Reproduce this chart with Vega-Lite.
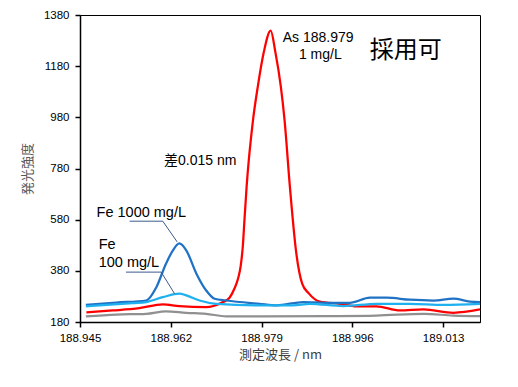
{
  "$schema": "https://vega.github.io/schema/vega-lite/v6.json",
  "width": 400,
  "height": 307,
  "autosize": {"type": "none"},
  "padding": {"left": 80, "top": 15, "right": 38, "bottom": 65},
  "background": "white",
  "config": {
    "view": {"stroke": "#000000", "strokeWidth": 1},
    "font": "Liberation Sans, Noto Sans CJK JP, sans-serif"
  },
  "datasets": {
    "spectra": [
      {"series": "As", "wl": 188.9462, "intensity": 218},
      {"series": "As", "wl": 188.9511, "intensity": 225},
      {"series": "As", "wl": 188.9561, "intensity": 234},
      {"series": "As", "wl": 188.9605, "intensity": 249},
      {"series": "As", "wl": 188.9636, "intensity": 242},
      {"series": "As", "wl": 188.9686, "intensity": 238},
      {"series": "As", "wl": 188.9715, "intensity": 255},
      {"series": "As", "wl": 188.9730, "intensity": 275},
      {"series": "As", "wl": 188.9739, "intensity": 310},
      {"series": "As", "wl": 188.9746, "intensity": 350},
      {"series": "As", "wl": 188.9751, "intensity": 400},
      {"series": "As", "wl": 188.9755, "intensity": 480},
      {"series": "As", "wl": 188.9758, "intensity": 580},
      {"series": "As", "wl": 188.9762, "intensity": 709},
      {"series": "As", "wl": 188.9774, "intensity": 970},
      {"series": "As", "wl": 188.9783, "intensity": 1101},
      {"series": "As", "wl": 188.9794, "intensity": 1233},
      {"series": "As", "wl": 188.9807, "intensity": 1319},
      {"series": "As", "wl": 188.9816, "intensity": 1233},
      {"series": "As", "wl": 188.9826, "intensity": 1101},
      {"series": "As", "wl": 188.9833, "intensity": 970},
      {"series": "As", "wl": 188.9843, "intensity": 709},
      {"series": "As", "wl": 188.9855, "intensity": 449},
      {"series": "As", "wl": 188.9866, "intensity": 330},
      {"series": "As", "wl": 188.9878, "intensity": 293},
      {"series": "As", "wl": 188.9899, "intensity": 260},
      {"series": "As", "wl": 188.9936, "intensity": 251},
      {"series": "As", "wl": 188.9968, "intensity": 241},
      {"series": "As", "wl": 189.0005, "intensity": 241},
      {"series": "As", "wl": 189.0049, "intensity": 225},
      {"series": "As", "wl": 189.0093, "intensity": 229},
      {"series": "As", "wl": 189.0149, "intensity": 216},
      {"series": "As", "wl": 189.0199, "intensity": 229},

      {"series": "Fe1000", "wl": 188.9461, "intensity": 247},
      {"series": "Fe1000", "wl": 188.9518, "intensity": 256},
      {"series": "Fe1000", "wl": 188.9574, "intensity": 264},
      {"series": "Fe1000", "wl": 188.9593, "intensity": 316},
      {"series": "Fe1000", "wl": 188.9611, "intensity": 408},
      {"series": "Fe1000", "wl": 188.9624, "intensity": 460},
      {"series": "Fe1000", "wl": 188.9636, "intensity": 487},
      {"series": "Fe1000", "wl": 188.9649, "intensity": 460},
      {"series": "Fe1000", "wl": 188.9668, "intensity": 369},
      {"series": "Fe1000", "wl": 188.9686, "intensity": 304},
      {"series": "Fe1000", "wl": 188.9702, "intensity": 271},
      {"series": "Fe1000", "wl": 188.9724, "intensity": 264},
      {"series": "Fe1000", "wl": 188.9786, "intensity": 251},
      {"series": "Fe1000", "wl": 188.9818, "intensity": 245},
      {"series": "Fe1000", "wl": 188.9868, "intensity": 258},
      {"series": "Fe1000", "wl": 188.9912, "intensity": 255},
      {"series": "Fe1000", "wl": 188.9955, "intensity": 255},
      {"series": "Fe1000", "wl": 188.9993, "intensity": 275},
      {"series": "Fe1000", "wl": 189.0024, "intensity": 275},
      {"series": "Fe1000", "wl": 189.0068, "intensity": 267},
      {"series": "Fe1000", "wl": 189.0112, "intensity": 264},
      {"series": "Fe1000", "wl": 189.0149, "intensity": 271},
      {"series": "Fe1000", "wl": 189.0180, "intensity": 260},
      {"series": "Fe1000", "wl": 189.0199, "intensity": 258},

      {"series": "Fe100", "wl": 188.9461, "intensity": 241},
      {"series": "Fe100", "wl": 188.9549, "intensity": 254},
      {"series": "Fe100", "wl": 188.9574, "intensity": 258},
      {"series": "Fe100", "wl": 188.9605, "intensity": 277},
      {"series": "Fe100", "wl": 188.9636, "intensity": 291},
      {"series": "Fe100", "wl": 188.9649, "intensity": 284},
      {"series": "Fe100", "wl": 188.9674, "intensity": 264},
      {"series": "Fe100", "wl": 188.9705, "intensity": 251},
      {"series": "Fe100", "wl": 188.9786, "intensity": 245},
      {"series": "Fe100", "wl": 188.9849, "intensity": 245},
      {"series": "Fe100", "wl": 188.9880, "intensity": 251},
      {"series": "Fe100", "wl": 188.9943, "intensity": 242},
      {"series": "Fe100", "wl": 189.0005, "intensity": 251},
      {"series": "Fe100", "wl": 189.0068, "intensity": 251},
      {"series": "Fe100", "wl": 189.0130, "intensity": 247},
      {"series": "Fe100", "wl": 189.0199, "intensity": 251},

      {"series": "Blank", "wl": 188.9461, "intensity": 202},
      {"series": "Blank", "wl": 188.9518, "intensity": 209},
      {"series": "Blank", "wl": 188.9574, "intensity": 212},
      {"series": "Blank", "wl": 188.9611, "intensity": 222},
      {"series": "Blank", "wl": 188.9649, "intensity": 216},
      {"series": "Blank", "wl": 188.9686, "intensity": 212},
      {"series": "Blank", "wl": 188.9724, "intensity": 202},
      {"series": "Blank", "wl": 188.9786, "intensity": 202},
      {"series": "Blank", "wl": 188.9912, "intensity": 203},
      {"series": "Blank", "wl": 189.0005, "intensity": 205},
      {"series": "Blank", "wl": 189.0094, "intensity": 212},
      {"series": "Blank", "wl": 189.0149, "intensity": 205},
      {"series": "Blank", "wl": 189.0199, "intensity": 203}
    ],
    "leaders": [
      {"id": "Fe1000", "k": 1, "wl": 188.9543, "intensity": 574},
      {"id": "Fe1000", "k": 2, "wl": 188.9605, "intensity": 574},
      {"id": "Fe1000", "k": 3, "wl": 188.9632, "intensity": 493},
      {"id": "Fe100", "k": 1, "wl": 188.9536, "intensity": 375},
      {"id": "Fe100", "k": 2, "wl": 188.9602, "intensity": 375},
      {"id": "Fe100", "k": 3, "wl": 188.9627, "intensity": 291}
    ],
    "labelsCenter": [
      {"text": "As 188.979", "wl": 188.9896, "intensity": 1292},
      {"text": "1 mg/L", "wl": 188.9900, "intensity": 1225},
      {"text": "差0.015 nm", "wl": 188.9675, "intensity": 810}
    ],
    "labelsLeft": [
      {"text": "Fe 1000 mg/L", "wl": 188.9481, "intensity": 607},
      {"text": "Fe", "wl": 188.9485, "intensity": 480},
      {"text": "100 mg/L", "wl": 188.9485, "intensity": 411}
    ],
    "labelsBig": [
      {"text": "採用可", "wl": 189.0060, "intensity": 1238}
    ]
  },
  "layer": [
    {
      "data": {"name": "spectra"},
      "mark": {"type": "line", "interpolate": "monotone", "strokeWidth": 2.25, "clip": true},
      "encoding": {
        "x": {
          "field": "wl", "type": "quantitative",
          "scale": {"domain": [188.945, 189.0199], "nice": false, "zero": false},
          "axis": {
            "values": [188.945, 188.962, 188.979, 188.996, 189.013],
            "format": ".3f",
            "title": "測定波長 / nm",
            "titleFont": "Noto Sans CJK JP",
            "titleFontSize": 13,
            "titleFontWeight": "normal",
            "titleColor": "#404040",
            "titlePadding": 5,
            "labelFontSize": 11.5,
            "labelColor": "#000000",
            "labelPadding": 5,
            "labelFlush": false,
            "domainColor": "#000000",
            "domainWidth": 1.5,
            "tickColor": "#000000",
            "tickWidth": 1.5,
            "tickSize": 5,
            "grid": false
          }
        },
        "y": {
          "field": "intensity", "type": "quantitative",
          "scale": {"domain": [180, 1380], "nice": false, "zero": false},
          "axis": {
            "values": [180, 380, 580, 780, 980, 1180, 1380],
            "format": "d",
            "title": "発光強度",
            "titleFont": "Noto Sans CJK JP",
            "titleFontSize": 13,
            "titleFontWeight": "normal",
            "titleColor": "#595959",
            "titlePadding": 9,
            "labelFontSize": 11.5,
            "labelColor": "#000000",
            "labelPadding": 6,
            "domainColor": "#000000",
            "domainWidth": 1.5,
            "tickColor": "#000000",
            "tickWidth": 1.5,
            "tickSize": 5,
            "grid": false
          }
        },
        "color": {
          "field": "series", "type": "nominal",
          "scale": {"domain": ["Blank", "Fe100", "Fe1000", "As"], "range": ["#909090", "#1fb0f0", "#1f72c4", "#ff0000"]},
          "legend": null
        },
        "order": {"field": "wl", "type": "quantitative"}
      }
    },
    {
      "data": {"name": "leaders"},
      "mark": {"type": "line", "strokeWidth": 1, "color": "#3d5a8a"},
      "encoding": {
        "x": {"field": "wl", "type": "quantitative"},
        "y": {"field": "intensity", "type": "quantitative"},
        "detail": {"field": "id"},
        "order": {"field": "k", "type": "quantitative"}
      }
    },
    {
      "data": {"name": "labelsCenter"},
      "mark": {"type": "text", "align": "center", "baseline": "middle", "fontSize": 14, "color": "#000000"},
      "encoding": {
        "x": {"field": "wl", "type": "quantitative"},
        "y": {"field": "intensity", "type": "quantitative"},
        "text": {"field": "text"}
      }
    },
    {
      "data": {"name": "labelsLeft"},
      "mark": {"type": "text", "align": "left", "baseline": "middle", "fontSize": 14.5, "color": "#000000"},
      "encoding": {
        "x": {"field": "wl", "type": "quantitative"},
        "y": {"field": "intensity", "type": "quantitative"},
        "text": {"field": "text"}
      }
    },
    {
      "data": {"name": "labelsBig"},
      "mark": {"type": "text", "align": "center", "baseline": "middle", "fontSize": 24, "font": "Noto Sans CJK JP", "color": "#000000"},
      "encoding": {
        "x": {"field": "wl", "type": "quantitative"},
        "y": {"field": "intensity", "type": "quantitative"},
        "text": {"field": "text"}
      }
    }
  ]
}
